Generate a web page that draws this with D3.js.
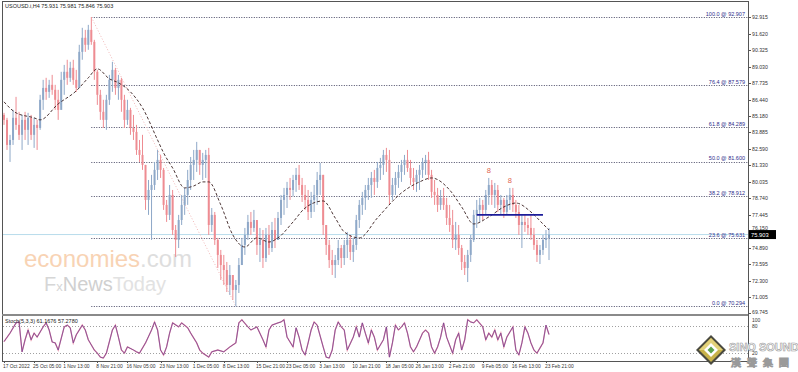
<!DOCTYPE html>
<html>
<head>
<meta charset="utf-8">
<script src="https://cdn.jsdelivr.net/npm/d3@7"></script>
<style>
  body { margin: 0; background: #fff; }
  svg text { font-family: "Liberation Sans", Arial, sans-serif; }
</style>
</head>
<body>
<svg id="chart" width="798" height="372"></svg>
<script>
// ---- data ----
const chartTitle = 'USOUSD.i,H4  75.931 75.981 75.846 75.903';
const stochTitle = 'Stoch(5,3,3) 61.1676 57.2780';
const firstOpen = 85.26;

const highs = [
  85.42,85.03,83.70,85.65,86.67,85.50,85.26,85.50,85.42,85.26,
  85.03,84.87,86.83,88.00,88.16,88.00,88.39,87.61,87.22,88.63,
  89.17,89.57,89.41,89.57,88.78,90.74,92.07,91.91,92.30,92.91,
  91.13,88.78,87.22,86.44,86.83,88.39,89.41,88.94,88.39,88.16,
  86.83,86.44,85.81,85.26,84.48,83.30,83.70,81.35,80.17,80.57,
  81.58,82.52,82.13,81.11,78.61,79.78,79.39,76.65,77.44,79.00,
  79.55,80.96,81.97,82.52,83.15,82.52,82.29,82.52,82.68,77.98,
  77.67,75.64,74.70,74.31,73.76,73.52,72.74,72.35,74.07,75.64,
  76.42,77.44,77.67,77.83,76.89,76.42,76.26,76.42,76.65,76.89,
  77.20,77.67,79.00,79.55,80.02,80.33,80.57,81.11,81.35,80.33,
  79.78,79.39,79.24,79.78,80.80,81.50,80.57,76.65,75.48,74.70,
  74.31,75.48,75.09,75.48,76.11,75.87,75.64,77.44,78.61,79.24,
  79.78,80.33,80.80,80.96,81.58,81.90,82.52,82.68,82.52,80.33,
  80.80,81.35,81.74,82.13,82.52,81.74,81.11,80.96,81.35,81.90,
  82.13,82.37,80.96,80.17,79.55,79.39,79.55,78.77,78.22,77.83,
  76.89,76.65,75.09,74.31,74.70,75.87,77.83,78.61,78.77,78.61,
  79.39,80.33,80.17,79.94,79.78,79.00,78.77,79.00,79.55,79.55,
  78.61,78.22,77.44,77.44,77.20,77.44,76.42,75.48,75.09,75.87,
  76.26,76.42
];
const lows = [
  84.48,82.52,81.58,82.91,84.09,83.30,82.52,83.30,82.91,83.30,
  82.68,82.52,84.09,85.65,86.44,86.59,86.83,85.65,84.87,86.04,
  86.83,87.61,87.84,87.61,87.06,87.37,89.57,90.19,90.35,90.74,
  88.00,86.04,84.87,84.24,84.09,86.04,87.06,86.83,86.44,85.50,
  84.24,84.48,83.70,83.30,82.13,81.58,80.96,77.83,77.44,75.48,
  79.39,80.17,80.33,77.83,76.89,77.04,75.87,74.15,74.85,76.65,
  77.44,78.22,79.39,80.17,80.80,80.57,80.17,80.33,75.87,76.11,
  75.09,73.29,72.35,71.96,71.41,71.18,70.79,70.29,71.33,73.52,
  74.31,75.48,75.87,76.11,74.31,73.76,73.29,73.76,74.31,74.54,
  74.85,75.48,76.65,77.44,77.98,78.61,78.92,79.24,79.39,78.45,
  77.83,77.04,77.20,77.67,78.22,79.00,75.87,74.31,73.29,72.74,
  72.51,73.52,73.29,73.52,74.07,73.91,73.76,74.70,76.42,77.44,
  77.83,78.61,78.77,79.00,79.55,80.17,80.57,80.80,78.22,78.61,
  79.00,79.55,80.02,80.57,80.80,79.78,79.39,79.24,79.39,80.33,
  80.57,80.17,78.77,78.22,77.67,77.83,77.83,76.65,76.11,74.85,
  74.70,74.31,73.13,72.74,72.19,73.76,75.32,76.42,76.89,77.04,
  77.44,78.22,78.22,77.98,77.67,77.44,77.20,77.44,77.83,77.67,
  77.20,75.87,74.85,76.11,75.87,75.48,74.70,73.76,73.60,74.31,
  74.85,73.91
];
const closes = [
  84.87,82.91,83.30,85.03,84.48,83.70,84.87,84.09,85.03,83.70,
  84.48,84.24,86.44,87.37,87.06,87.61,87.22,86.44,85.65,88.00,
  88.63,88.16,88.94,88.00,87.37,90.19,91.29,90.74,91.91,90.97,
  88.63,86.83,85.50,84.87,86.44,88.00,88.78,87.37,88.00,86.44,
  84.87,85.65,84.24,83.93,82.52,82.13,81.35,78.61,79.39,79.78,
  80.96,81.74,80.96,78.22,77.44,79.00,76.26,75.48,77.04,78.22,
  79.00,80.17,81.35,81.74,82.52,81.35,81.74,82.13,76.65,77.44,
  75.48,74.31,73.52,73.13,71.96,72.74,71.57,71.96,73.52,75.09,
  75.87,76.89,76.42,77.04,75.09,75.48,74.07,75.87,74.85,76.26,
  75.48,77.20,78.61,79.00,79.55,79.39,80.17,80.57,79.78,79.00,
  78.61,77.67,78.61,79.00,80.17,80.57,76.65,75.09,73.91,73.52,
  73.91,74.85,74.07,75.09,75.48,74.54,75.09,77.04,78.22,78.77,
  79.39,79.78,80.33,80.02,81.11,81.35,82.13,81.74,79.00,79.78,
  80.33,80.80,81.35,81.74,81.11,80.33,80.02,80.57,80.96,81.58,
  81.74,80.57,79.24,79.00,78.22,78.77,78.22,77.20,76.65,75.48,
  75.87,74.85,73.76,73.29,74.31,75.48,77.44,77.83,78.22,77.83,
  79.00,79.78,79.00,79.39,78.22,78.61,77.67,78.61,79.00,78.22,
  77.67,76.65,76.89,76.65,76.42,75.87,75.09,74.31,74.70,75.48,
  75.64,75.90
];

// moving average (dashed), read at selected bars
const maBars   = [0,4,10,12,18,24,28,31,35,38,42,46,51,53,56,60,63,66,68,72,76,80,84,88,91,96,100,106,110,113,118,124,132,138,142,148,152,156,161,166,170,175,179,181];
const maValues = [86.28,85.42,85.03,84.87,86.12,87.14,88.16,88.86,88.08,87.77,87.06,85.81,83.30,82.29,81.11,79.55,79.70,80.02,80.02,78.22,75.87,74.93,75.64,75.32,75.64,76.89,77.98,78.53,77.20,76.11,75.64,77.20,79.16,80.02,80.33,79.39,78.06,76.73,77.28,78.06,78.37,77.67,76.73,76.26];

// stochastic %K, read at turning points
const stochBars = [0,2,4,5,6,7,8,9,10,11,13,14,15,16,17,18,20,21,22,23,24,26,27,28,30,31,32,33,34,36,37,38,39,40,41,43,44,45,47,49,50,51,52,53,54,55,56,58,59,61,62,64,65,66,68,69,71,73,75,77,78,79,81,82,84,86,87,88,89,91,92,93,94,96,97,98,99,100,101,102,103,104,106,107,108,109,110,111,112,113,114,116,117,118,119,120,121,122,123,124,126,127,128,129,130,131,132,133,134,135,136,137,139,140,141,142,143,144,145,146,147,149,150,151,152,153,154,155,156,157,159,160,161,162,163,164,165,166,167,169,170,171,172,173,174,175,176,177,179,180,181];
const stochValues = [45,64,87,89,22,49,71,49,64,55,78,87,71,44,42,26,78,82,76,42,60,82,71,49,26,19,10,8,19,71,82,55,26,19,33,26,22,19,42,71,89,71,26,15,33,64,87,78,87,76,64,42,26,19,10,22,26,22,33,42,87,94,78,71,78,49,33,71,82,87,89,94,55,33,76,55,26,15,42,71,89,82,33,10,8,26,71,89,78,71,26,55,78,55,87,64,42,71,55,26,49,78,10,42,82,71,78,87,64,33,22,33,64,71,64,33,19,33,55,87,55,19,49,64,26,49,94,89,87,94,78,49,64,55,71,49,64,33,55,78,26,15,42,78,64,42,26,19,42,82,61];

const priceTicks = ['92.915','91.620','90.325','89.030','87.735','86.440','85.180','83.885','82.590','81.330','80.035','78.740','77.445','76.150','74.890','73.595','72.300','71.005','69.745'];
const stochTicks = ['100','80','20'];

const fibRatios = ['100.0','76.4','61.8','50.0','38.2','23.6','0.0'];
const fibPrices = [92.907, 87.579, 84.289, 81.600, 78.912, 75.631, 70.294];
const fibFromBar = 29, fibToBar = 77;

const dateBars   = [0,10,20,31,41,52,63,73,84,94,105,116,127,137,148,159,169,180];
const dateLabels = ['17 Oct 2022','25 Oct 05:00','1 Nov 13:00','8 Nov 21:00','16 Nov 05:00','23 Nov 13:00','1 Dec 05:00','8 Dec 13:00','15 Dec 21:00','23 Dec 05:00','3 Jan 13:00','10 Jan 21:00','18 Jan 05:00','26 Jan 13:00','2 Feb 21:00','9 Feb 05:00','16 Feb 13:00','23 Feb 21:00'];

const lastPrice = 75.903;
const necklinePrice = 77.44, necklineBars = [157, 179];
const shoulderBars = [161, 168], shoulderPrices = [80.72, 79.94];

// ---- layout ----
const left = 3, right = 748;
const mainBottom = 314;
const subBottom = 361;

const bull = '#8ea8c8', bear = '#ee8c92';

const svg = d3.select('#chart');

const x = d3.scaleLinear().domain([0, closes.length - 1]).range([4, 549]);
const y = d3.scaleLinear().domain([69.745, 92.915]).range([313.3, 17]);
const ys = d3.scaleLinear().domain([0, 100]).range([361.6, 317.1]);

const bars = closes.map((c, i) => ({
  i, c, h: highs[i], l: lows[i], o: i === 0 ? firstOpen : closes[i - 1]
}));

// watermark
const wm = svg.append('g').attr('font-family', 'Lato, "Open Sans", sans-serif');
const wt1 = wm.append('text').attr('x', 24).attr('y', 267).attr('font-size', 24);
wt1.append('tspan').attr('fill', '#f8d3b4').text('economies');
wt1.append('tspan').attr('fill', '#dedede').text('.com');
const wt2 = wm.append('text').attr('x', 44).attr('y', 291).attr('font-size', 20);
wt2.append('tspan').attr('fill', '#d6d6d6').text('F');
wt2.append('tspan').attr('fill', '#d6d6d6').attr('font-size', 13).text('x');
wt2.append('tspan').attr('fill', '#d0d0d0').text('News');
wt2.append('tspan').attr('fill', '#e2e2e2').text('Today');

// current price line
svg.append('line')
  .attr('x1', left).attr('x2', right)
  .attr('y1', y(lastPrice)).attr('y2', y(lastPrice))
  .attr('stroke', '#b8dcec').attr('stroke-width', 1);

// fibonacci levels
const fib = svg.append('g');
fib.selectAll('line').data(fibPrices).join('line')
  .attr('x1', x(fibFromBar)).attr('x2', right)
  .attr('y1', d => Math.round(y(d)) + 0.5).attr('y2', d => Math.round(y(d)) + 0.5)
  .attr('stroke', '#4a4a66').attr('stroke-width', 1)
  .attr('stroke-dasharray', '1,1.5');
fib.selectAll('text').data(fibPrices).join('text')
  .attr('x', right - 3).attr('y', d => y(d) - 1.5)
  .attr('text-anchor', 'end').attr('font-size', 5.5).attr('fill', '#2e2e8c')
  .text((d, i) => `${fibRatios[i]} @ ${d.toFixed(3)}`);
svg.append('line')
  .attr('x1', x(fibFromBar)).attr('y1', y(fibPrices[0]))
  .attr('x2', x(fibToBar)).attr('y2', y(fibPrices[6]))
  .attr('stroke', '#f2b8b8').attr('stroke-dasharray', '1,2');

// candles
const gC = svg.append('g');
gC.selectAll('line').data(bars).join('line')
  .attr('x1', d => x(d.i)).attr('x2', d => x(d.i))
  .attr('y1', d => y(d.h)).attr('y2', d => y(d.l))
  .attr('stroke', d => d.c >= d.o ? bull : bear).attr('stroke-width', 1);
gC.selectAll('rect').data(bars).join('rect')
  .attr('x', d => x(d.i) - 1).attr('width', 2)
  .attr('y', d => y(Math.max(d.o, d.c)))
  .attr('height', d => Math.max(1, Math.abs(y(d.o) - y(d.c))))
  .attr('fill', d => d.c >= d.o ? bull : bear);

// moving average
svg.append('path')
  .datum(maBars.map((b, i) => [b, maValues[i]]))
  .attr('fill', 'none').attr('stroke', '#3a2020').attr('stroke-width', 0.9)
  .attr('stroke-dasharray', '3,2')
  .attr('d', d3.line().x(d => x(d[0])).y(d => y(d[1])).curve(d3.curveMonotoneX));

// neckline and shoulder marks
svg.append('line')
  .attr('x1', x(necklineBars[0])).attr('x2', x(necklineBars[1]))
  .attr('y1', y(necklinePrice)).attr('y2', y(necklinePrice))
  .attr('stroke', '#1c1c9a').attr('stroke-width', 1.6);
svg.selectAll('text.sh').data(shoulderBars).join('text').attr('class', 'sh')
  .attr('x', d => x(d)).attr('y', (d, i) => y(shoulderPrices[i]))
  .attr('text-anchor', 'middle').attr('font-size', 7.5).attr('fill', '#e0654f')
  .text('8');

// stochastic panel
svg.selectAll('line.lvl').data([80, 20]).join('line').attr('class', 'lvl')
  .attr('x1', left).attr('x2', right)
  .attr('y1', d => Math.round(ys(d)) + 0.5).attr('y2', d => Math.round(ys(d)) + 0.5)
  .attr('stroke', '#a0a0a0').attr('stroke-dasharray', '1,2');
const stLine = d3.line().x(d => x(d[0])).y(d => ys(d[1]));
const stData = stochBars.map((b, i) => [b, stochValues[i]]);
svg.append('path').datum(stData)
  .attr('fill', 'none').attr('stroke', '#e58aa4').attr('stroke-width', 1.3)
  .attr('d', stLine);
svg.append('path').datum(stData)
  .attr('fill', 'none').attr('stroke', '#6a3f94').attr('stroke-width', 0.7)
  .attr('d', stLine);
svg.append('text').attr('x', 5).attr('y', 323).attr('font-size', 5.5).attr('fill', '#222')
  .text(stochTitle);

// frame
const frame = svg.append('g').attr('fill', 'none').attr('shape-rendering', 'crispEdges');
frame.append('line').attr('x1', 2.5).attr('x2', 2.5).attr('y1', 1).attr('y2', subBottom).attr('stroke', '#555');
frame.append('line').attr('x1', 2).attr('x2', right).attr('y1', 1.5).attr('y2', 1.5).attr('stroke', '#555');
frame.append('line').attr('x1', right + 0.5).attr('x2', right + 0.5).attr('y1', 1).attr('y2', subBottom).attr('stroke', '#555');
frame.append('rect').attr('x', 2).attr('y', mainBottom - 0.5).attr('width', right - 2).attr('height', 2.5).attr('fill', '#8a8a8a');
frame.append('line').attr('x1', 2).attr('x2', right).attr('y1', subBottom + 0.5).attr('y2', subBottom + 0.5).attr('stroke', '#555');

// title
svg.append('text').attr('x', 5).attr('y', 8).attr('font-size', 5.5).attr('fill', '#222').text(chartTitle);

// right price axis (the label right above the price box is nudged up so it stays readable)
const pa = svg.append('g').attr('font-size', 5.2).attr('fill', '#333');
pa.selectAll('line').data(priceTicks).join('line')
  .attr('x1', right).attr('x2', right + 3)
  .attr('y1', d => Math.round(y(+d)) + 0.5).attr('y2', d => Math.round(y(+d)) + 0.5)
  .attr('stroke', '#555');
pa.selectAll('text').data(priceTicks).join('text')
  .attr('x', right + 4)
  .attr('y', (d, i) => {
    if (i === priceTicks.length - 1) return y(+d) + 0.5;
    if (Math.abs(+d - lastPrice) < 0.6) return y(lastPrice) - 5;
    return y(+d) + 2;
  })
  .text(d => d);

// last price box
svg.append('rect').attr('x', right + 1).attr('y', y(lastPrice) - 4.5).attr('width', 27).attr('height', 9).attr('fill', '#000');
svg.append('text').attr('x', right + 3).attr('y', y(lastPrice) + 2).attr('font-size', 5.8).attr('fill', '#fff').text(lastPrice.toFixed(3));

// stoch axis (the 20 label sits under the logo, as in the source)
svg.selectAll('text.st').data(stochTicks).join('text').attr('class', 'st')
  .attr('x', right + 4).attr('y', d => d === '100' ? 321.5 : ys(+d) + 2).attr('font-size', 5)
  .attr('fill', '#333')
  .text(d => d);

// date axis
const da = svg.append('g').attr('font-size', 4.9).attr('fill', '#333');
da.selectAll('line').data(dateBars).join('line')
  .attr('x1', d => Math.round(x(d)) + 0.5).attr('x2', d => Math.round(x(d)) + 0.5)
  .attr('y1', subBottom).attr('y2', subBottom + 2).attr('stroke', '#555');
da.selectAll('text').data(dateBars).join('text')
  .attr('x', d => x(d) - 1).attr('y', 367.5)
  .text((d, i) => dateLabels[i]);

// logo
const logo = svg.append('g').attr('transform', 'translate(711,350)');
logo.append('path').attr('d', 'M0,-15 L15,0 L0,15 L-15,0Z').attr('fill', '#4a4a40');
logo.append('path').attr('d', 'M0,-12 L12,0 L0,12 L-12,0Z').attr('fill', '#c8b24a');
logo.append('path').attr('d', 'M0,-12 L12,0 L0,0 L-12,0Z').attr('fill', '#e3d27a');
logo.append('path').attr('d', 'M0,-7 L7,0 L0,7 L-7,0Z').attr('fill', '#fff');
logo.append('path').attr('d', 'M0,-3.5 L3.5,0 L0,3.5 L-3.5,0Z').attr('fill', '#5aa24a');
svg.append('text').attr('x', 729).attr('y', 351).attr('font-size', 11).attr('font-weight', 'bold')
  .attr('fill', '#fff').attr('stroke', '#9a9a9a').attr('stroke-width', 0.6)
  .attr('font-family', 'Roboto, sans-serif').text('SINO SOUND');
svg.append('text').attr('x', 731).attr('y', 366).attr('font-size', 10).attr('font-weight', 'bold')
  .attr('fill', '#fff').attr('stroke', '#9a9a9a').attr('stroke-width', 0.6)
  .attr('letter-spacing', 6)
  .attr('font-family', '"Noto Sans CJK TC", sans-serif').text('漢聲集團');
</script>
</body>
</html>
